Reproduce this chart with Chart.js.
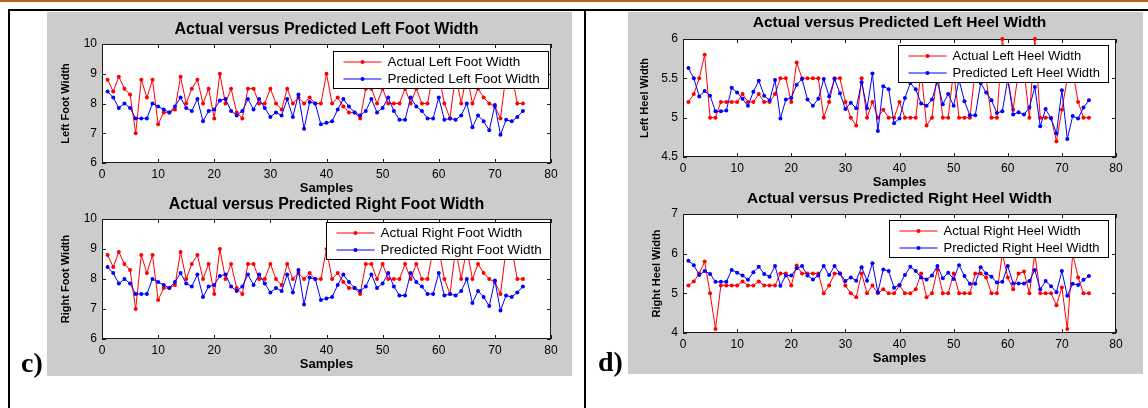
<!DOCTYPE html>
<html>
<head>
<meta charset="utf-8">
<title>Actual versus Predicted Foot and Heel Width</title>
<script src="https://cdn.jsdelivr.net/npm/chart.js@4.4.1/dist/chart.umd.min.js"></script>
<style>
  html, body { margin: 0; padding: 0; background: #fff; }
  #page { position: relative; width: 1148px; height: 408px; overflow: hidden; }
  .rule { position: absolute; background: #000; }
  .panel { position: absolute; background: #cccccc; }
  canvas { position: absolute; }
  .tag { position: absolute; font: bold 28px "Liberation Serif", "Times New Roman", serif; line-height: 28px; color: #000; }
</style>
</head>
<body>
<div id="page">
  <div style="position:absolute;left:0;top:0;width:1148px;height:2px;background:#b5651d"></div>
  <div class="rule" style="left:8px;top:9px;width:1140px;height:2px"></div>
  <div class="rule" style="left:8px;top:9px;width:2px;height:399px"></div>
  <div class="rule" style="left:584px;top:9px;width:2px;height:399px"></div>
  <div class="panel" style="left:47px;top:12px;width:525px;height:364px"></div>
  <div class="panel" style="left:628px;top:12px;width:515px;height:362px"></div>
  <canvas id="leftFoot" width="525" height="186" style="left:47px;top:12px"></canvas>
  <canvas id="rightFoot" width="525" height="186" style="left:47px;top:188px"></canvas>
  <canvas id="leftHeel" width="515" height="180" style="left:628px;top:12px"></canvas>
  <canvas id="rightHeel" width="515" height="182" style="left:628px;top:186px"></canvas>
  <div class="tag" style="left:21px;top:349px">c)</div>
  <div class="tag" style="left:598px;top:348px">d)</div>
</div>
<script>
// sample numbers on the x axis
const samples = [
    1, 2, 3, 4, 5, 6, 7, 8, 9, 10, 11, 12, 13, 14, 15, 16, 17, 18, 19, 20,
    21, 22, 23, 24, 25, 26, 27, 28, 29, 30, 31, 32, 33, 34, 35, 36, 37, 38, 39, 40,
    41, 42, 43, 44, 45, 46, 47, 48, 49, 50, 51, 52, 53, 54, 55, 56, 57, 58, 59, 60,
    61, 62, 63, 64, 65, 66, 67, 68, 69, 70, 71, 72, 73, 74, 75
];
const sampleTicks = [0, 10, 20, 30, 40, 50, 60, 70, 80];
const footTicks = [6, 7, 8, 9, 10];
const leftHeelTicks = [4.5, 5, 5.5, 6];
const rightHeelTicks = [4, 5, 6, 7];

const leftFootActual = [
    8.8, 8.4, 8.9, 8.5, 8.3, 7.0, 8.8, 8.2, 8.8, 7.3,
    7.7, 7.7, 7.8, 8.9, 8.0, 8.5, 8.8, 8.0, 8.5, 7.5,
    9.0, 8.0, 8.5, 7.7, 7.5, 8.5, 8.5, 8.0, 8.0, 8.5,
    8.0, 7.8, 8.5, 8.0, 8.2, 8.0, 8.2, 8.0, 8.0, 9.0,
    8.0, 8.2, 7.9, 7.7, 7.7, 7.5, 8.5, 8.5, 8.0, 8.5,
    8.0, 8.0, 8.0, 8.5, 8.0, 8.5, 8.0, 8.0, 9.0, 9.0,
    8.0, 7.5, 9.0, 8.0, 9.0, 8.0, 8.5, 8.2, 8.0, 7.9,
    7.5, 9.0, 9.0, 8.0, 8.0
];
const leftFootPredicted = [
    8.4, 8.2, 7.85, 8.0, 7.85, 7.5, 7.5, 7.5, 8.0, 7.9,
    7.8, 7.7, 7.9, 8.2, 7.85, 7.75, 8.15, 7.4, 7.75, 7.8,
    8.1, 8.15, 7.75, 7.6, 7.75, 8.15, 7.8, 8.15, 7.85, 7.55,
    7.7, 7.6, 8.15, 7.55, 8.3, 7.15, 8.05, 8.0, 7.3, 7.35,
    7.4, 7.8, 8.15, 7.9, 7.7, 7.6, 7.75, 8.15, 7.7, 7.85,
    8.2, 7.75, 7.45, 7.45, 8.2, 7.9, 7.75, 7.5, 7.5, 8.2,
    7.45, 7.5, 7.45, 7.6, 8.0, 7.2, 7.6, 7.4, 7.1, 7.95,
    6.95, 7.45, 7.4, 7.55, 7.75
];
const rightFootActual = [
    8.8, 8.4, 8.9, 8.5, 8.3, 7.0, 8.8, 8.2, 8.8, 7.3,
    7.7, 7.7, 7.8, 8.9, 8.0, 8.5, 8.8, 8.0, 8.5, 7.5,
    9.0, 8.0, 8.5, 7.7, 7.5, 8.5, 8.5, 8.0, 8.0, 8.5,
    8.0, 7.8, 8.5, 8.0, 8.2, 8.0, 8.2, 8.0, 8.0, 9.0,
    8.0, 8.2, 7.9, 7.7, 7.7, 7.5, 8.5, 8.5, 8.0, 8.5,
    8.0, 8.0, 8.0, 8.5, 8.0, 8.5, 8.0, 8.0, 9.0, 9.0,
    8.0, 7.5, 9.0, 8.0, 9.0, 8.0, 8.5, 8.2, 8.0, 7.9,
    7.5, 9.0, 9.0, 8.0, 8.0
];
const rightFootPredicted = [
    8.4, 8.2, 7.85, 8.0, 7.85, 7.5, 7.5, 7.5, 8.0, 7.9,
    7.8, 7.7, 7.9, 8.2, 7.85, 7.75, 8.15, 7.4, 7.75, 7.8,
    8.1, 8.15, 7.75, 7.6, 7.75, 8.15, 7.8, 8.15, 7.85, 7.55,
    7.7, 7.6, 8.15, 7.55, 8.3, 7.15, 8.05, 8.0, 7.3, 7.35,
    7.4, 7.8, 8.15, 7.9, 7.7, 7.6, 7.75, 8.15, 7.7, 7.85,
    8.2, 7.75, 7.45, 7.45, 8.2, 7.9, 7.75, 7.5, 7.5, 8.2,
    7.45, 7.5, 7.45, 7.6, 8.0, 7.2, 7.6, 7.4, 7.1, 7.95,
    6.95, 7.45, 7.4, 7.55, 7.75
];
const leftHeelActual = [
    5.2, 5.3, 5.5, 5.8, 5.0, 5.0, 5.2, 5.2, 5.2, 5.2,
    5.3, 5.2, 5.2, 5.3, 5.2, 5.2, 5.3, 5.5, 5.5, 5.2,
    5.7, 5.5, 5.5, 5.5, 5.5, 5.0, 5.2, 5.5, 5.5, 5.2,
    5.0, 4.9, 5.5, 5.0, 5.2, 5.0, 5.1, 5.0, 5.0, 5.2,
    5.0, 5.0, 5.0, 5.6, 4.9, 5.0, 5.6, 5.0, 5.0, 5.6,
    5.0, 5.0, 5.0, 5.6, 5.6, 5.5, 5.0, 5.0, 6.0, 5.5,
    5.1, 5.6, 5.6, 5.0, 6.0, 5.0, 5.0, 5.0, 4.7, 5.1,
    5.5, 5.6, 5.2, 5.0, 5.0
];
const leftHeelPredicted = [
    5.63, 5.5, 5.27, 5.34, 5.28, 5.08, 5.08, 5.09, 5.38, 5.32,
    5.24, 5.15, 5.33, 5.47, 5.28, 5.22, 5.48, 4.99, 5.23, 5.25,
    5.42, 5.49, 5.23, 5.15, 5.24, 5.49, 5.27, 5.49, 5.31, 5.11,
    5.19, 5.12, 5.45, 5.12, 5.56, 4.83, 5.4, 5.36, 4.93, 4.99,
    5.25, 5.44, 5.36, 5.18, 5.15, 5.23, 5.46, 5.17, 5.3, 5.15,
    5.48, 5.21, 5.03, 5.03, 5.44, 5.32, 5.22, 5.06, 5.08, 5.49,
    5.04, 5.07, 5.04, 5.13, 5.39, 4.89, 5.11, 4.99, 4.8, 5.35,
    4.73, 5.02, 4.99, 5.13, 5.22
];
const rightHeelActual = [
    5.2, 5.3, 5.5, 5.8, 5.0, 4.1, 5.2, 5.2, 5.2, 5.2,
    5.3, 5.2, 5.2, 5.3, 5.2, 5.2, 5.2, 5.5, 5.5, 5.2,
    5.7, 5.5, 5.5, 5.5, 5.5, 5.0, 5.2, 5.5, 5.5, 5.2,
    5.0, 4.9, 5.5, 5.0, 5.2, 5.0, 5.1, 5.0, 5.0, 5.2,
    5.0, 5.0, 5.1, 5.5, 4.9, 5.0, 5.6, 5.0, 5.0, 5.5,
    5.0, 5.0, 5.0, 5.5, 5.5, 5.4, 5.0, 5.0, 6.0, 5.4,
    5.1, 5.5, 5.55, 5.0, 6.0, 5.0, 5.0, 5.0, 4.7, 5.15,
    4.1, 6.0, 5.4, 5.0, 5.0
];
const rightHeelPredicted = [
    5.82, 5.71, 5.46, 5.56, 5.49, 5.29, 5.29, 5.29, 5.59, 5.52,
    5.45, 5.34, 5.53, 5.67, 5.49, 5.42, 5.69, 5.19, 5.45, 5.45,
    5.63, 5.69, 5.45, 5.35, 5.45, 5.69, 5.46, 5.69, 5.5, 5.31,
    5.4, 5.32, 5.66, 5.32, 5.76, 5.03, 5.6, 5.56, 5.14, 5.21,
    5.46, 5.67, 5.56, 5.4, 5.35, 5.45, 5.69, 5.38, 5.52, 5.36,
    5.71, 5.44, 5.24, 5.24, 5.66, 5.5, 5.42, 5.27, 5.29, 5.69,
    5.25, 5.25, 5.25, 5.31, 5.59, 5.1, 5.31, 5.18, 5.03, 5.56,
    4.94, 5.24, 5.21, 5.34, 5.44
];

const FONT = "'Liberation Sans', Arial, sans-serif";
Chart.defaults.font.family = FONT;
Chart.defaults.color = '#000';

// white axes box, inward ticks on all four sides, and a boxed legend like matlab
const matlabAxes = {
    id: 'matlabAxes',
    beforeDraw(chart) {
        const { ctx, chartArea: a } = chart;
        ctx.save();
        ctx.fillStyle = '#ffffff';
        ctx.fillRect(a.left, a.top, a.right - a.left, a.bottom - a.top);
        ctx.restore();
    },
    beforeDatasetsDraw(chart) {
        const { ctx, chartArea: a, scales } = chart;
        const len = 4;
        ctx.save();
        ctx.strokeStyle = '#1a1a1a';
        ctx.lineWidth = 1;
        ctx.beginPath();
        scales.x.ticks.forEach(t => {
            const px = Math.round(scales.x.getPixelForValue(t.value)) + 0.5;
            ctx.moveTo(px, a.bottom); ctx.lineTo(px, a.bottom - len);
            ctx.moveTo(px, a.top); ctx.lineTo(px, a.top + len);
        });
        scales.y.ticks.forEach(t => {
            const py = Math.round(scales.y.getPixelForValue(t.value)) + 0.5;
            ctx.moveTo(a.left, py); ctx.lineTo(a.left + len, py);
            ctx.moveTo(a.right, py); ctx.lineTo(a.right - len, py);
        });
        ctx.stroke();
        ctx.strokeRect(a.left + 0.5, a.top + 0.5, a.right - a.left - 1, a.bottom - a.top - 1);
        ctx.restore();
    },
    afterDatasetsDraw(chart, args, opts) {
        const { ctx, chartArea: a } = chart;
        const sets = chart.data.datasets;
        ctx.save();
        ctx.font = opts.fontSize + 'px ' + FONT;
        const textW = Math.max(...sets.map(d => ctx.measureText(d.label).width));
        const w = Math.round(10 + 38 + 6 + textW + 9);
        const h = 37;
        const x0 = Math.round(a.right - opts.insetRight - w) + 0.5;
        const y0 = Math.round(a.top + opts.insetTop) + 0.5;
        ctx.fillStyle = '#fff';
        ctx.fillRect(x0, y0, w, h);
        ctx.strokeStyle = '#000';
        ctx.lineWidth = 1;
        ctx.strokeRect(x0, y0, w, h);
        sets.forEach((d, i) => {
            const cy = Math.round(y0 + 10 + i * 17);
            ctx.strokeStyle = d.borderColor;
            ctx.beginPath();
            ctx.moveTo(x0 + 10, cy);
            ctx.lineTo(x0 + 48, cy);
            ctx.stroke();
            ctx.fillStyle = d.borderColor;
            ctx.beginPath();
            ctx.arc(x0 + 29, cy, 2, 0, Math.PI * 2);
            ctx.fill();
            ctx.fillStyle = '#000';
            ctx.textAlign = 'left';
            ctx.textBaseline = 'middle';
            ctx.fillText(d.label, x0 + 54, cy + 0.5);
        });
        ctx.restore();
    }
};

function series(label, values, color, order) {
    return {
        label: label,
        data: samples.map((s, i) => ({ x: s, y: values[i] })),
        borderColor: color,
        backgroundColor: color,
        pointBackgroundColor: color,
        pointBorderColor: color,
        borderWidth: 1,
        pointRadius: 2,
        pointBorderWidth: 0,
        tension: 0,
        clip: 4,
        order: order
    };
}

function drawPanel(id, o) {
    const yTicks = o.yTicks;
    new Chart(document.getElementById(id), {
        type: 'line',
        data: {
            datasets: [
                series(o.names[0], o.actual, '#ff0000', 2),
                series(o.names[1], o.predicted, '#0000ff', 1)
            ]
        },
        options: {
            responsive: false,
            animation: false,
            events: [],
            devicePixelRatio: 1,
            layout: { padding: { left: 0, top: 0, bottom: 0, right: o.padRight } },
            scales: {
                x: {
                    type: 'linear',
                    min: sampleTicks[0],
                    max: sampleTicks[sampleTicks.length - 1],
                    afterBuildTicks: s => { s.ticks = sampleTicks.map(v => ({ value: v })); },
                    afterFit: s => { s.height = 35; },
                    grid: { display: false, drawTicks: false },
                    border: { display: false },
                    ticks: { padding: 4, font: { size: 12 }, color: '#000', maxRotation: 0, autoSkip: false, callback: v => String(v) },
                    title: {
                        display: true, text: 'Samples', color: '#000',
                        font: { size: 13, weight: 'bold', lineHeight: '15px' },
                        padding: { top: 0, bottom: 2.5 }
                    }
                },
                y: {
                    type: 'linear',
                    min: yTicks[0],
                    max: yTicks[yTicks.length - 1],
                    afterBuildTicks: s => { s.ticks = yTicks.map(v => ({ value: v })); },
                    afterFit: s => { s.width = 55; },
                    grid: { display: false, drawTicks: false },
                    border: { display: false },
                    ticks: { padding: 5, font: { size: 12 }, color: '#000', autoSkip: false, callback: v => String(v) },
                    title: {
                        display: true, text: o.yTitle, color: '#000',
                        font: { size: 11, weight: 'bold', lineHeight: '13px' },
                        padding: { top: o.yTitlePad, bottom: 0 }
                    }
                }
            },
            plugins: {
                legend: { display: false },
                tooltip: { enabled: false },
                title: {
                    display: true, text: o.title, color: '#000', fullSize: false,
                    font: { size: o.titleSize, weight: 'bold', lineHeight: '19px' },
                    padding: { top: o.titlePad[0], bottom: o.titlePad[1] }
                },
                matlabAxes: { insetRight: o.legendAt[0], insetTop: o.legendAt[1], fontSize: o.legendFont }
            }
        },
        plugins: [matlabAxes]
    });
}

drawPanel('leftFoot', {
    title: 'Actual versus Predicted Left Foot Width',
    yTitle: 'Left Foot Width',
    names: ['Actual Left Foot Width', 'Predicted Left Foot Width'],
    actual: leftFootActual, predicted: leftFootPredicted, yTicks: footTicks,
    padRight: 21, titleSize: 16, titlePad: [8.5, 4.5], yTitlePad: 12.5,
    legendAt: [3, 7], legendFont: 13.5
});
drawPanel('rightFoot', {
    title: 'Actual versus Predicted Right Foot Width',
    yTitle: 'Right Foot Width',
    names: ['Actual Right Foot Width', 'Predicted Right Foot Width'],
    actual: rightFootActual, predicted: rightFootPredicted, yTicks: footTicks,
    padRight: 21, titleSize: 16, titlePad: [7.5, 4.5], yTitlePad: 12.5,
    legendAt: [1, 3], legendFont: 13.5
});
drawPanel('leftHeel', {
    title: 'Actual versus Predicted Left Heel Width',
    yTitle: 'Left Heel Width',
    names: ['Actual Left Heel Width', 'Predicted Left Heel Width'],
    actual: leftHeelActual, predicted: leftHeelPredicted, yTicks: leftHeelTicks,
    padRight: 27, titleSize: 15.5, titlePad: [1.5, 6.5], yTitlePad: 10.5,
    legendAt: [8, 6], legendFont: 13
});
drawPanel('rightHeel', {
    title: 'Actual versus Predicted Right Heel Width',
    yTitle: 'Right Heel Width',
    names: ['Actual Right Heel Width', 'Predicted Right Heel Width'],
    actual: rightHeelActual, predicted: rightHeelPredicted, yTicks: rightHeelTicks,
    padRight: 27, titleSize: 15.5, titlePad: [3.5, 5.5], yTitlePad: 22.5,
    legendAt: [8, 6], legendFont: 13
});
</script>
</body>
</html>
